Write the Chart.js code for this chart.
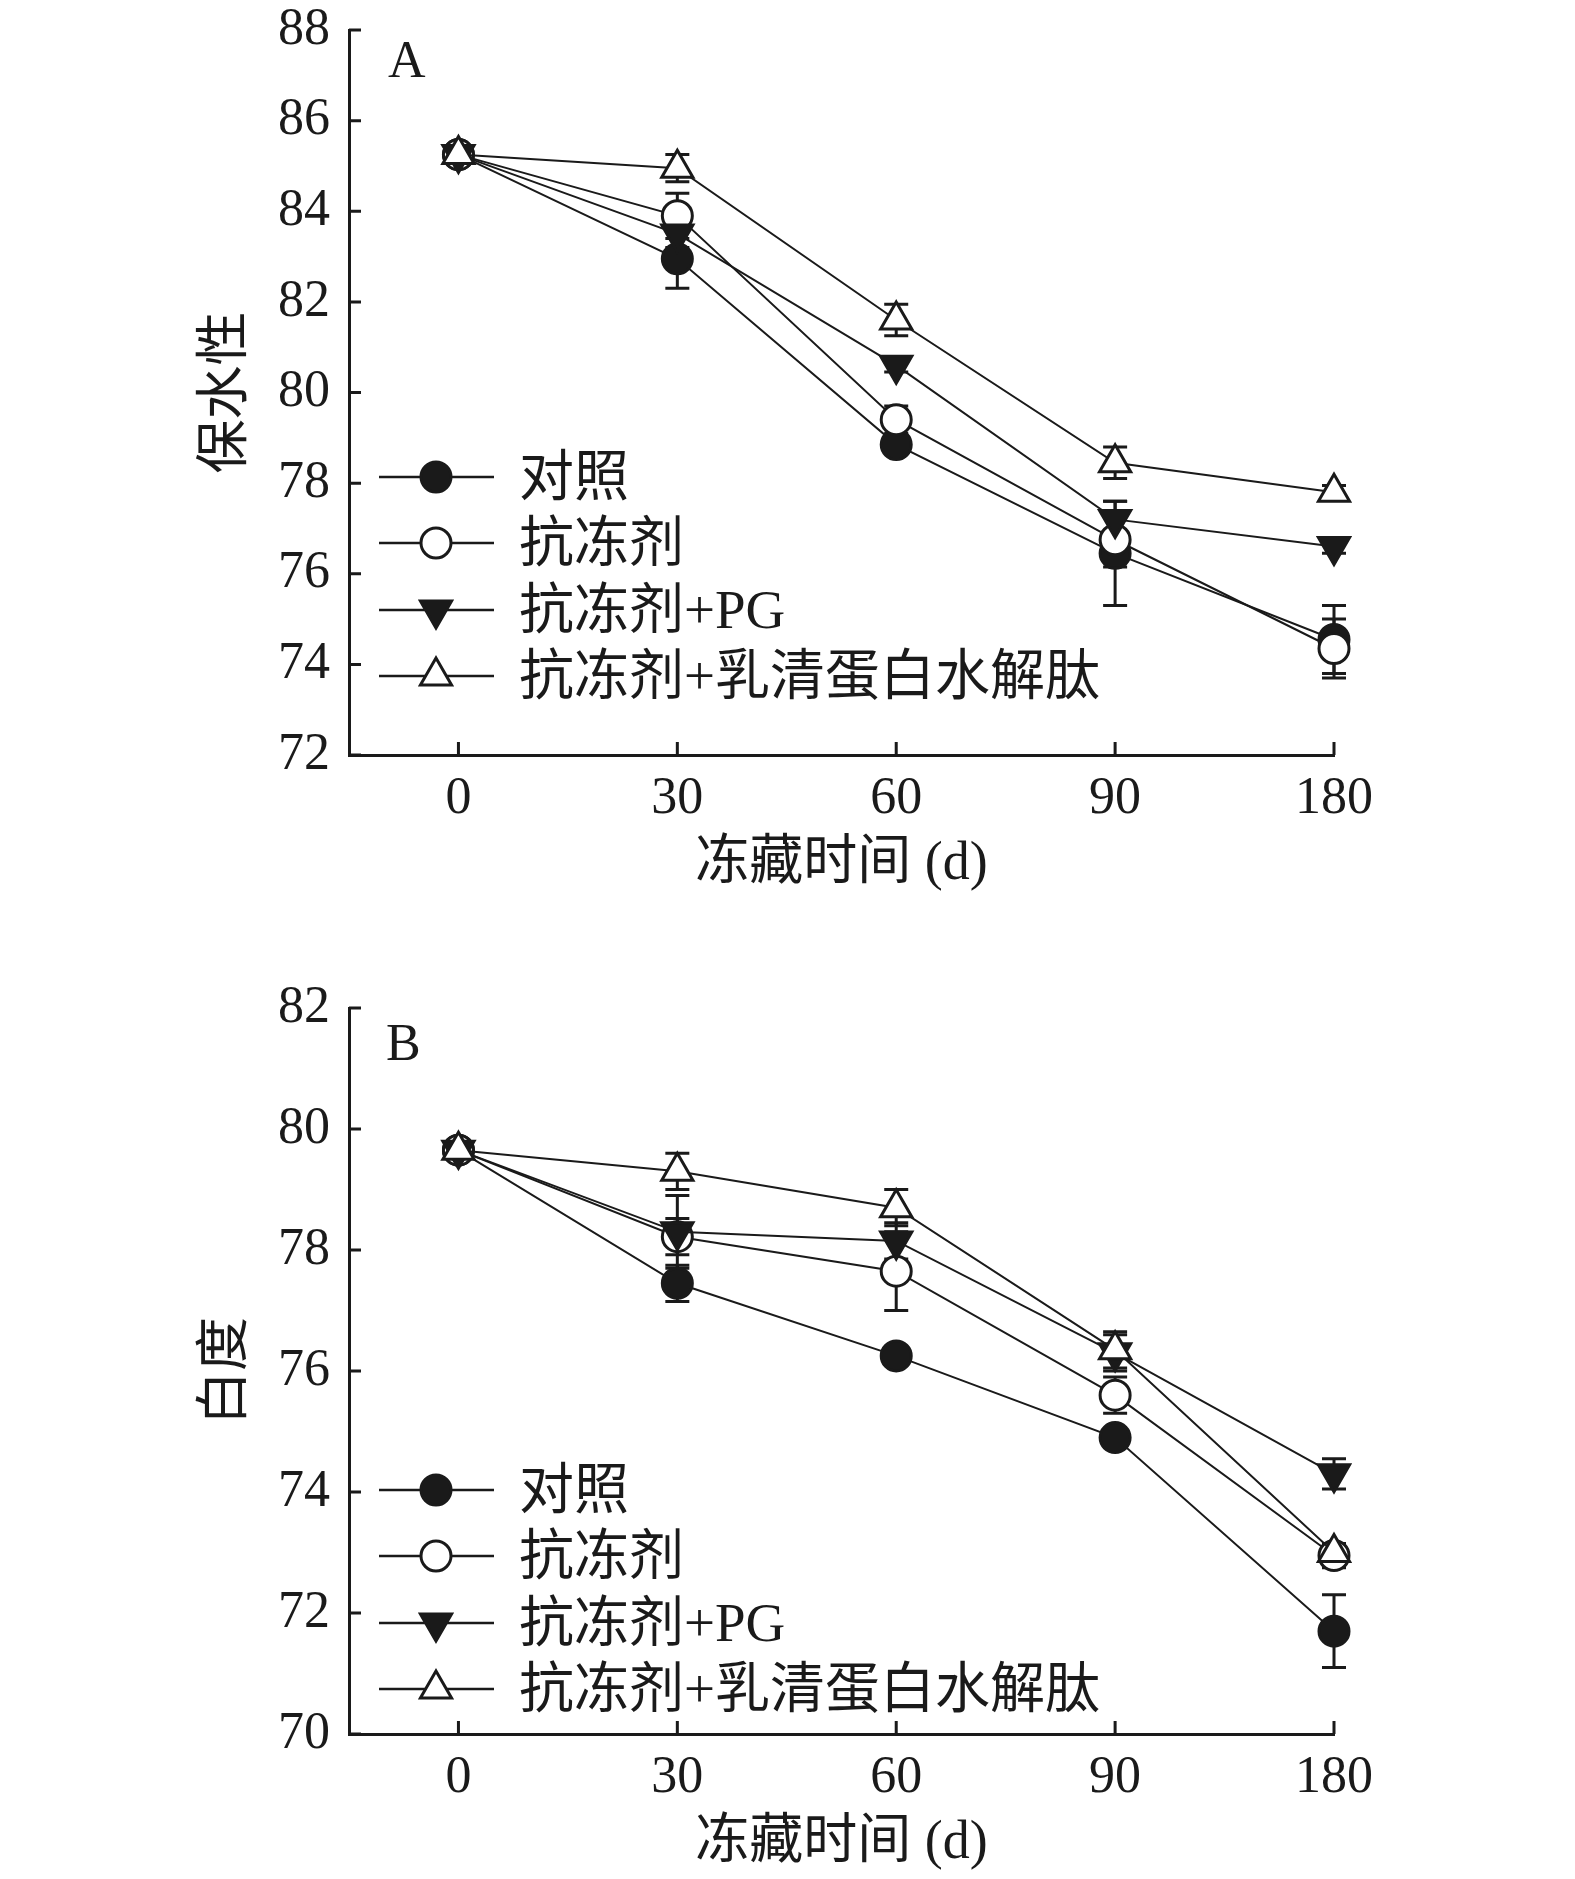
<!DOCTYPE html>
<html lang="zh">
<head>
<meta charset="UTF-8">
<title>冻藏时间对保水性和白度的影响</title>
<script src="https://cdn.jsdelivr.net/npm/chart.js"></script>
<style>
    body { margin: 0; background: #fff; }
    .page { position: relative; width: 1575px; height: 1879px; }
    .panel { position: absolute; left: 0; }
    .tag { position: absolute; font: 52px/52px 'Liberation Serif', serif; color: #1a1a1a; }
    .legend { position: absolute; left: 379px; }
    .legend-row {
        position: absolute; left: 0; height: 60px;
        display: flex; align-items: center; white-space: nowrap;
        font: 55px/60px 'Liberation Serif', 'Noto Sans CJK SC', serif; color: #1a1a1a;
    }
    .legend-row svg { margin-right: 25px; flex: none; }
</style>
</head>
<body>
<div class="page">
    <canvas id="chartA" class="panel" width="1575" height="900" style="top:0"></canvas>
    <canvas id="chartB" class="panel" width="1575" height="899" style="top:980px"></canvas>
    <div class="tag" style="left:388px; top:34px">A</div>
    <div class="tag" style="left:386px; top:1017px">B</div>
    <div class="legend" id="legendA" style="top:447px"></div>
    <div class="legend" id="legendB" style="top:1460px"></div>
</div>

<script>
    // x categories (days of frozen storage)
    const dayLabels = ['0', '30', '60', '90', '180'];
    const seriesNames = ['对照', '抗冻剂', '抗冻剂+PG', '抗冻剂+乳清蛋白水解肽'];

    // A: 保水性
    const waterControl = [85.25, 82.95, 78.85, 76.45, 74.55];
    const waterCryo    = [85.25, 83.90, 79.40, 76.75, 74.35];
    const waterPG      = [85.25, 83.50, 80.60, 77.20, 76.60];
    const waterWhey    = [85.25, 84.95, 81.60, 78.45, 77.80];
    const waterControlErr = [0.10, 0.65, 0.15, 1.15, 0.75];
    const waterCryoErr    = [0.10, 0.50, 0.30, 0.60, 0.65];
    const waterPGErr      = [0.10, 0.30, 0.15, 0.40, 0.15];
    const waterWheyErr    = [0.10, 0.30, 0.35, 0.35, 0.15];

    // B: 白度
    const whiteControl = [79.65, 77.45, 76.25, 74.90, 71.70];
    const whiteCryo    = [79.65, 78.22, 77.65, 75.60, 72.95];
    const whitePG      = [79.65, 78.30, 78.15, 76.30, 74.30];
    const whiteWhey    = [79.65, 79.30, 78.70, 76.35, 73.00];
    const whiteControlErr = [0.05, 0.30, 0.15, 0.10, 0.60];
    const whiteCryoErr    = [0.05, 0.30, 0.65, 0.30, 0.20];
    const whitePGErr      = [0.05, 0.60, 0.30, 0.30, 0.25];
    const whiteWheyErr    = [0.05, 0.30, 0.30, 0.30, 0.15];

    const ink = '#1a1a1a';
    const family = "'Liberation Serif', 'Noto Sans CJK SC', serif";
    const markers = [
        { style: 'circle', fill: ink, rotation: 0, radius: 15 },
        { style: 'circle', fill: '#fff', rotation: 0, radius: 15 },
        { style: 'triangle', fill: ink, rotation: 180, radius: 18 },
        { style: 'triangle', fill: '#fff', rotation: 0, radius: 18 }
    ];

    // error bars, drawn under the markers
    const errorBars = {
        id: 'errorBars',
        beforeDatasetsDraw(chart) {
            const { ctx, scales: { x, y } } = chart;
            ctx.save();
            ctx.strokeStyle = ink;
            ctx.lineWidth = 3;
            chart.data.datasets.forEach(ds => {
                ds.data.forEach((p, i) => {
                    const e = ds.errors[i];
                    const px = x.getPixelForValue(p.x);
                    const top = y.getPixelForValue(p.y + e);
                    const bot = y.getPixelForValue(p.y - e);
                    ctx.beginPath();
                    ctx.moveTo(px, top); ctx.lineTo(px, bot);
                    ctx.moveTo(px - 12, top); ctx.lineTo(px + 12, top);
                    ctx.moveTo(px - 12, bot); ctx.lineTo(px + 12, bot);
                    ctx.stroke();
                });
            });
            ctx.restore();
        }
    };

    // tick marks pointing into the plot
    const innerTicks = {
        id: 'innerTicks',
        afterDraw(chart) {
            const { ctx, chartArea, scales: { x, y } } = chart;
            ctx.save();
            ctx.strokeStyle = ink;
            ctx.lineWidth = 3;
            ctx.beginPath();
            y.ticks.forEach(t => {
                const py = y.getPixelForValue(t.value);
                ctx.moveTo(chartArea.left, py);
                ctx.lineTo(chartArea.left + 12, py);
            });
            x.ticks.forEach(t => {
                const px = x.getPixelForValue(t.value);
                ctx.moveTo(px, chartArea.bottom);
                ctx.lineTo(px, chartArea.bottom - 13);
            });
            ctx.stroke();
            ctx.restore();
        }
    };

    function makeChart(id, series, errs, yMin, yMax, yTitle, padTop) {
        return new Chart(document.getElementById(id), {
            type: 'line',
            data: {
                datasets: series.map((vals, k) => ({
                    label: seriesNames[k],
                    data: vals.map((v, i) => ({ x: i, y: v })),
                    errors: errs[k],
                    order: series.length - k, // later series on top
                    clip: false,
                    borderColor: ink,
                    borderWidth: 2,
                    tension: 0,
                    pointStyle: markers[k].style,
                    pointRotation: markers[k].rotation,
                    pointRadius: markers[k].radius,
                    pointBackgroundColor: markers[k].fill,
                    pointBorderColor: ink,
                    pointBorderWidth: 3
                }))
            },
            options: {
                responsive: false,
                animation: false,
                devicePixelRatio: 1,
                layout: { padding: { left: 0, right: 241, top: padTop, bottom: 0 } },
                plugins: { legend: { display: false }, tooltip: { enabled: false } },
                scales: {
                    x: {
                        type: 'linear',
                        min: -0.5,
                        max: 4,
                        afterBuildTicks: s => { s.ticks = dayLabels.map((_, i) => ({ value: i })); },
                        afterFit: s => { s.height = 145; },
                        grid: { display: false, drawTicks: false },
                        border: { color: ink, width: 3 },
                        ticks: {
                            callback: v => dayLabels[v],
                            color: ink,
                            autoSkip: false,
                            maxRotation: 0,
                            padding: 18,
                            font: { family: family, size: 52, lineHeight: 1 }
                        },
                        title: {
                            display: true,
                            text: '冻藏时间 (d)',
                            color: ink,
                            font: { family: family, size: 54, lineHeight: 1 },
                            padding: { top: 0, bottom: 8 }
                        }
                    },
                    y: {
                        min: yMin,
                        max: yMax,
                        afterFit: s => { s.width = 349; s.paddingTop = 0; s.paddingBottom = 0; },
                        grid: { display: false, drawTicks: false },
                        border: { color: ink, width: 3 },
                        ticks: {
                            stepSize: 2,
                            color: ink,
                            padding: 19,
                            font: { family: family, size: 52, lineHeight: 1 }
                        },
                        title: {
                            display: true,
                            text: yTitle,
                            color: ink,
                            font: { family: family, size: 54, lineHeight: 1 },
                            padding: { top: 201, bottom: 0 }
                        }
                    }
                }
            },
            plugins: [errorBars, innerTicks]
        });
    }

    function markerSvg(m) {
        const cx = 57, cy = 30;
        let shape;
        if (m.style === 'circle') {
            shape = `<circle cx="${cx}" cy="${cy}" r="${m.radius}" fill="${m.fill}" stroke="${ink}" stroke-width="3"/>`;
        } else {
            const pts = [0, 120, 240].map(a => {
                const r = (a + m.rotation) * Math.PI / 180;
                return `${cx + Math.sin(r) * m.radius},${cy - Math.cos(r) * m.radius}`;
            }).join(' ');
            shape = `<polygon points="${pts}" fill="${m.fill}" stroke="${ink}" stroke-width="3"/>`;
        }
        return `<svg width="115" height="60"><line x1="0" y1="30" x2="115" y2="30" stroke="${ink}" stroke-width="2.5"/>${shape}</svg>`;
    }

    function buildLegend(id) {
        const box = document.getElementById(id);
        seriesNames.forEach((name, k) => {
            const row = document.createElement('div');
            row.className = 'legend-row';
            row.style.top = (k * 66.3) + 'px';
            row.innerHTML = markerSvg(markers[k]) + '<span>' + name + '</span>';
            box.appendChild(row);
        });
    }

    makeChart('chartA',
        [waterControl, waterCryo, waterPG, waterWhey],
        [waterControlErr, waterCryoErr, waterPGErr, waterWheyErr],
        72, 88, '保水性', 30);
    makeChart('chartB',
        [whiteControl, whiteCryo, whitePG, whiteWhey],
        [whiteControlErr, whiteCryoErr, whitePGErr, whiteWheyErr],
        70, 82, '白度', 28);
    buildLegend('legendA');
    buildLegend('legendB');
</script>
</body>
</html>
